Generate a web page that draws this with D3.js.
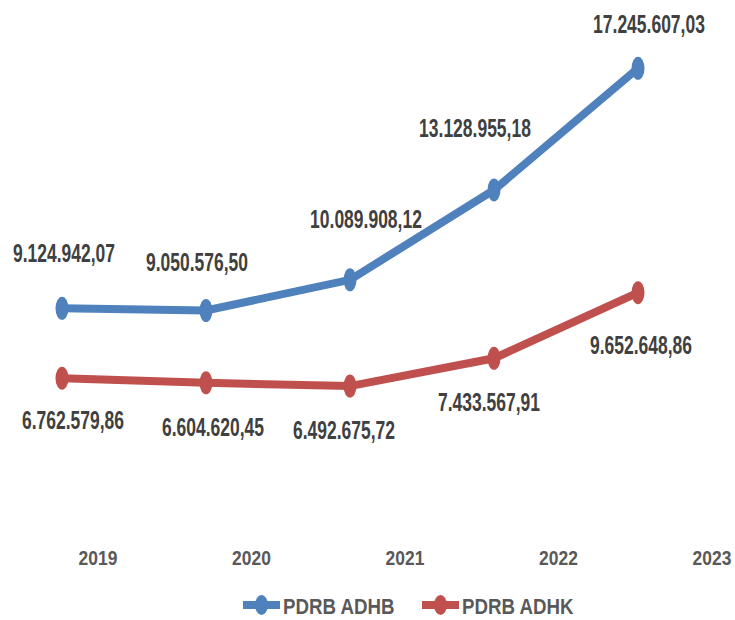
<!DOCTYPE html>
<html>
<head>
<meta charset="utf-8">
<script src="https://cdn.jsdelivr.net/npm/d3@7"></script>
<style>
  body { margin: 0; background: #fff; }
  text { font-family: "Liberation Sans", Arial, sans-serif; font-weight: bold; }
</style>
</head>
<body>
<div id="chart"></div>
<script>
// data
var years = ["2019", "2020", "2021", "2022", "2023"];
var adhb = [9124942.07, 9050576.50, 10089908.12, 13128955.18, 17245607.03];
var adhk = [6762579.86, 6604620.45, 6492675.72, 7433567.91, 9652648.86];
var seriesNames = ["PDRB ADHB", "PDRB ADHK"];

// label nudges (layout only), relative to the marker
var adhbNudge = [[2, -46], [-9, -40], [16, -52], [-19, -53], [11, -35]];
var adhkNudge = [[11, 51], [7, 53], [-6, 53], [-5, 53], [3, 61]];

var width = 735, height = 620;
var colors = ["#4f81bd", "#c0504d"];

var svg = d3.select("#chart").append("svg")
  .attr("width", width)
  .attr("height", height);

// scales: markers and category labels sit on slightly different grids
var x = d3.scalePoint().domain(years).range([62, 638]);
var xLabel = d3.scalePoint().domain(years).range([98, 712]);
var y = d3.scaleLinear().domain([0, 18000000]).range([578, 46]);

var fmt = d3.formatLocale({decimal: ",", thousands: ".", grouping: [3], currency: ["", ""]}).format(",.2f");

// squeezed text helper
function condText(g, cx, cy, str, size, sx, fill, anchor) {
  return g.append("text")
    .attr("transform", `translate(${cx},${cy}) scale(${sx},1)`)
    .attr("text-anchor", anchor || "middle")
    .attr("font-size", size)
    .attr("fill", fill)
    .text(str);
}

// category axis labels
years.forEach(function(yr) {
  condText(svg, xLabel(yr), 565, yr, 21, 0.83, "#595959");
});

var all = [adhb, adhk];
var nudges = [adhbNudge, adhkNudge];

all.forEach(function(vals, s) {
  var line = d3.line()
    .x(function(d, i) { return x(years[i]); })
    .y(function(d) { return y(d); });
  svg.append("path")
    .datum(vals)
    .attr("d", line)
    .attr("fill", "none")
    .attr("stroke", colors[s])
    .attr("stroke-width", 8);
  svg.append("g").selectAll("ellipse")
    .data(vals)
    .enter()
    .append("ellipse")
      .attr("cx", function(d, i) { return x(years[i]); })
      .attr("cy", function(d) { return y(d); })
      .attr("rx", 6.5)
      .attr("ry", 11.5)
      .attr("fill", colors[s]);
  var lg = svg.append("g");
  vals.forEach(function(v, i) {
    condText(lg, x(years[i]) + nudges[s][i][0], y(v) + nudges[s][i][1], fmt(v), 25, 0.7, "#404040");
  });
});

// legend
var legendX = [243, 422];
seriesNames.forEach(function(name, s) {
  var g = svg.append("g").attr("transform", `translate(${legendX[s]},605)`);
  g.append("line")
    .attr("x1", 0).attr("x2", 37)
    .attr("stroke", colors[s])
    .attr("stroke-width", 8);
  g.append("ellipse")
    .attr("cx", 18.5).attr("cy", 0)
    .attr("rx", 6.5).attr("ry", 10)
    .attr("fill", colors[s]);
  condText(g, 40, 9, name, 22, 0.85, "#595959", "start");
});
</script>
</body>
</html>
